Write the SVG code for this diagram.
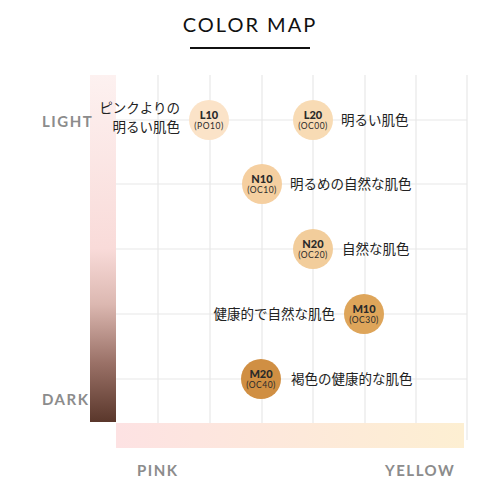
<svg xmlns="http://www.w3.org/2000/svg" width="500" height="500" viewBox="0 0 500 500">
<defs>
<linearGradient id="vgrad" x1="0" y1="0" x2="0" y2="1">
<stop offset="0" stop-color="#fdf1f0"/>
<stop offset="0.5" stop-color="#f9dbd9"/>
<stop offset="0.66" stop-color="#dcb8b1"/>
<stop offset="0.83" stop-color="#9a7167"/>
<stop offset="1" stop-color="#5a372b"/>
</linearGradient>
<linearGradient id="hgrad" x1="0" y1="0" x2="1" y2="0">
<stop offset="0" stop-color="#fde2e3"/>
<stop offset="1" stop-color="#fdefd2"/>
</linearGradient>
<style>
.grid{stroke:#e8e8e8;stroke-width:1.2;fill:none}
.axis{font-family:Lato,"Liberation Sans",sans-serif;font-weight:bold;font-size:15px;fill:#8c8c8c;letter-spacing:1.5px}
.code{font-family:Lato,"Liberation Sans",sans-serif;font-weight:900;font-size:11px;fill:#2a2a2a;text-anchor:middle}
.sub{font-family:Lato,"Liberation Sans",sans-serif;font-size:8.5px;fill:#2a2a2a;text-anchor:middle;letter-spacing:0.5px}
.jp{font-family:"Noto Sans CJK JP",sans-serif;font-size:13.5px;fill:#222}
</style>
</defs>
<rect width="500" height="500" fill="#ffffff"/>
<g id="title">
<text x="250" y="32" text-anchor="middle" font-family="Lato,'Liberation Sans',sans-serif" font-size="20" fill="#111" letter-spacing="2">COLOR MAP</text>
<line x1="190" y1="48" x2="310" y2="48" stroke="#111" stroke-width="2"/>
</g>
<g id="grid">
<path class="grid" d="M158 75V423M210 75V423M262 75V423M313 75V423M365 75V423M416 75V423M467 75V440M116 120H467M116 184H467M116 249H467M116 314H467M116 379H467"/>
</g>
<g id="bars">
<rect x="90" y="75" width="26" height="347" fill="url(#vgrad)"/>
<rect x="116" y="423" width="348" height="25" fill="url(#hgrad)"/>
</g>
<g id="axis-labels">
<text class="axis" x="42" y="127">LIGHT</text>
<text class="axis" x="42" y="405">DARK</text>
<text class="axis" x="137" y="476">PINK</text>
<text class="axis" x="385" y="476">YELLOW</text>
</g>
<g id="L10">
<circle cx="209" cy="120" r="20" fill="#fbe3c8"/>
<text class="code" x="209" y="119">L10</text>
<text class="sub" x="209" y="129">(PO10)</text>
<text class="jp" x="180" y="113" text-anchor="end" font-size="13">ピンクよりの</text>
<text class="jp" x="180" y="132" text-anchor="end" font-size="13">明るい肌色</text>
</g>
<g id="L20">
<circle cx="313" cy="120" r="20" fill="#f8dbb4"/>
<text class="code" x="313" y="119">L20</text>
<text class="sub" x="313" y="129">(OC00)</text>
<text class="jp" x="341" y="125">明るい肌色</text>
</g>
<g id="N10">
<circle cx="262" cy="184" r="20" fill="#f5cfa0"/>
<text class="code" x="262" y="183">N10</text>
<text class="sub" x="262" y="193">(OC10)</text>
<text class="jp" x="290" y="189">明るめの自然な肌色</text>
</g>
<g id="N20">
<circle cx="313" cy="249" r="20" fill="#f2cd9b"/>
<text class="code" x="313" y="248">N20</text>
<text class="sub" x="313" y="258">(OC20)</text>
<text class="jp" x="342" y="254">自然な肌色</text>
</g>
<g id="M10">
<circle cx="364" cy="314" r="20" fill="#dea55a"/>
<text class="code" x="364" y="313">M10</text>
<text class="sub" x="364" y="323">(OC30)</text>
<text class="jp" x="335" y="319" text-anchor="end">健康的で自然な肌色</text>
</g>
<g id="M20">
<circle cx="261" cy="379" r="20" fill="#d08f43"/>
<text class="code" x="261" y="378">M20</text>
<text class="sub" x="261" y="388">(OC40)</text>
<text class="jp" x="291" y="384">褐色の健康的な肌色</text>
</g>
</svg>
